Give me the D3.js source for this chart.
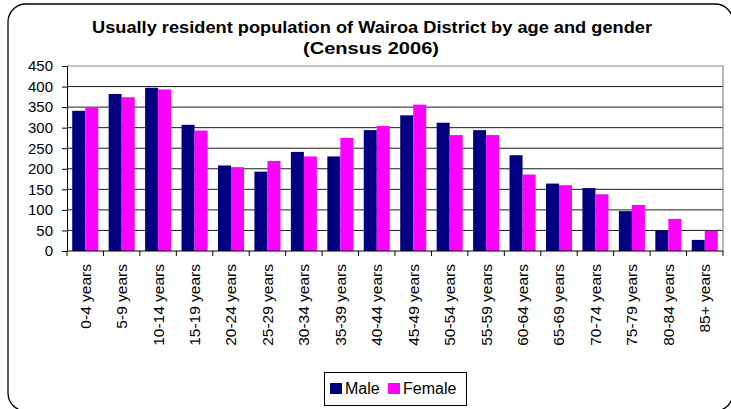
<!DOCTYPE html>
<html>
<head>
<meta charset="utf-8">
<script src="https://cdn.jsdelivr.net/npm/d3@7"></script>
<style>
  body { margin: 0; background: #fff; }
  svg { display: block; font-family: Arial, "Liberation Sans", sans-serif; }
</style>
</head>
<body>
<div class="chart"></div>
<script>
// age groups along the x axis
var ageGroups = ["0-4 years", "5-9 years", "10-14 years", "15-19 years", "20-24 years",
  "25-29 years", "30-34 years", "35-39 years", "40-44 years", "45-49 years",
  "50-54 years", "55-59 years", "60-64 years", "65-69 years", "70-74 years",
  "75-79 years", "80-84 years", "85+ years"];

// values
var maleCounts = [341, 382, 397, 307, 208, 193, 241, 230, 294, 330, 312, 294, 233, 164, 153, 97, 50, 27];
var femaleCounts = [350, 374, 393, 293, 204, 219, 230, 275, 304, 356, 282, 282, 186, 160, 138, 112, 78, 49];

var seriesNames = ["Male", "Female"];
var seriesColors = ["#000080", "#ff00ff"];
var yTicks = [0, 50, 100, 150, 200, 250, 300, 350, 400, 450];

var svgWidth = 731, svgHeight = 409;
var margin = { top: 66, right: 8, bottom: 158, left: 67 };
var width = svgWidth - margin.left - margin.right;
var height = svgHeight - margin.top - margin.bottom;

var svg = d3.select(".chart").append("svg")
  .attr("width", svgWidth)
  .attr("height", svgHeight);

// rounded outer frame
svg.append("rect")
  .attr("x", 8).attr("y", 4)
  .attr("width", 725).attr("height", 407)
  .attr("rx", 18).attr("ry", 18)
  .attr("fill", "none")
  .attr("stroke", "#000")
  .attr("stroke-width", 1.3);

// title
svg.append("text")
  .attr("x", 372).attr("y", 33)
  .attr("text-anchor", "middle")
  .attr("font-size", "17px").attr("font-weight", "bold")
  .attr("textLength", 560).attr("lengthAdjust", "spacingAndGlyphs")
  .text("Usually resident population of Wairoa District by age and gender");
svg.append("text")
  .attr("x", 371).attr("y", 54)
  .attr("text-anchor", "middle")
  .attr("font-size", "17px").attr("font-weight", "bold")
  .attr("textLength", 136).attr("lengthAdjust", "spacingAndGlyphs")
  .text("(Census 2006)");

var chart = svg.append("g")
  .attr("transform", "translate(" + margin.left + "," + margin.top + ")");

var x0 = d3.scaleBand().domain(ageGroups).range([0, width])
  .paddingInner(0.286).paddingOuter(0.143);
var x1 = d3.scaleBand().domain(seriesNames).range([0, x0.bandwidth()]);
var y = d3.scaleLinear().domain([0, 450]).range([height, 0]);

// gridlines
chart.selectAll(".grid")
  .data(yTicks.filter(function(d) { return d > 0 && d < 450; }))
  .enter().append("line")
  .attr("x1", 0).attr("x2", width)
  .attr("y1", function(d) { return y(d); })
  .attr("y2", function(d) { return y(d); })
  .attr("stroke", "#1a1a1a").attr("stroke-width", 1);

// plot area border (top + right in grey)
chart.append("path")
  .attr("d", "M0," + y(450) + "H" + width + "V" + height)
  .attr("fill", "none").attr("stroke", "#8c8c8c").attr("stroke-width", 1.2);

// bars
var rows = ageGroups.map(function(g, i) {
  return { group: g, values: [maleCounts[i], femaleCounts[i]] };
});

var groups = chart.selectAll(".age")
  .data(rows)
  .enter().append("g")
  .attr("class", "age")
  .attr("transform", function(d) { return "translate(" + x0(d.group) + ",0)"; });

groups.selectAll("rect")
  .data(function(d) { return d.values.map(function(v, k) { return { key: seriesNames[k], value: v, k: k }; }); })
  .enter().append("rect")
  .attr("x", function(d) { return x1(d.key); })
  .attr("width", x1.bandwidth())
  .attr("y", function(d) { return y(d.value); })
  .attr("height", function(d) { return height - y(d.value); })
  .attr("fill", function(d) { return seriesColors[d.k]; });

// y axis
var yAxis = chart.append("g")
  .call(d3.axisLeft(y).tickValues(yTicks).tickSize(5).tickPadding(9).tickSizeOuter(0));
yAxis.select(".domain").attr("stroke", "#000");
yAxis.selectAll("text").attr("font-size", "15px").attr("fill", "#000")
  .attr("font-family", "Arial, 'Liberation Sans', sans-serif");

// x axis: ticks at category boundaries
var xAxisG = chart.append("g").attr("transform", "translate(0," + height + ")");
xAxisG.append("line")
  .attr("x1", 0).attr("x2", width)
  .attr("stroke", "#000");
xAxisG.selectAll(".tk")
  .data(d3.range(ageGroups.length + 1))
  .enter().append("line")
  .attr("x1", function(i) { return i * x0.step(); })
  .attr("x2", function(i) { return i * x0.step(); })
  .attr("y1", 0).attr("y2", 5)
  .attr("stroke", "#000");
xAxisG.selectAll(".lbl")
  .data(ageGroups)
  .enter().append("text")
  .attr("transform", function(d) {
    return "translate(" + (x0(d) + x0.bandwidth() / 2) + ",13) rotate(-90)";
  })
  .attr("dy", "0.35em")
  .attr("text-anchor", "end")
  .attr("font-size", "15.5px")
  .text(function(d) { return d; });

// legend
var legend = svg.append("g");
legend.append("rect")
  .attr("x", 324.5).attr("y", 372.5)
  .attr("width", 142).attr("height", 33)
  .attr("fill", "#fff").attr("stroke", "#000");
var legendPos = [{ sx: 330, tx: 345 }, { sx: 388, tx: 403 }];
seriesNames.forEach(function(name, k) {
  legend.append("rect")
    .attr("x", legendPos[k].sx).attr("y", 383)
    .attr("width", 12).attr("height", 11)
    .attr("fill", seriesColors[k]);
  legend.append("text")
    .attr("x", legendPos[k].tx).attr("y", 394)
    .attr("font-size", "16px")
    .text(name);
});
</script>
</body>
</html>
